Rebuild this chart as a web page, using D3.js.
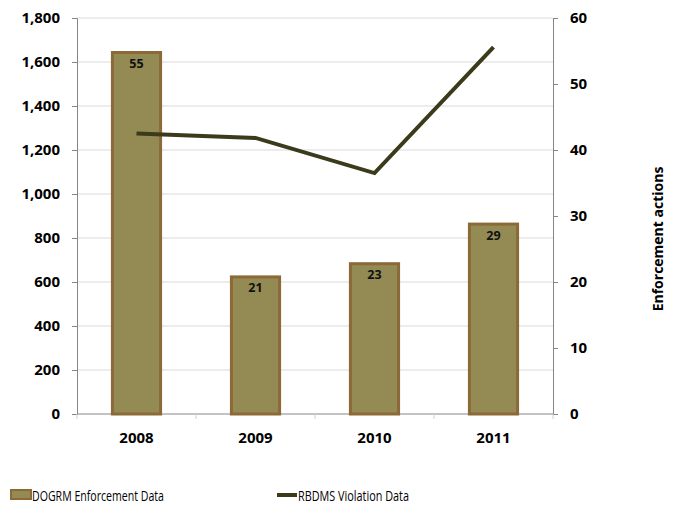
<!DOCTYPE html>
<html>
<head>
<meta charset="utf-8">
<script src="https://cdn.jsdelivr.net/npm/d3@7"></script>
<style>
  body { margin: 0; background: #fff; }
  text { font-family: "Open Sans", "DejaVu Sans", sans-serif; }
</style>
</head>
<body>
<div id="chart"></div>
<script>
var years = ['2008', '2009', '2010', '2011']
var enforcement = [55, 21, 23, 29]          // right axis, bars
var violations = [1275, 1255, 1095, 1668]   // left axis, line
var leftTicks = [0, 200, 400, 600, 800, 1000, 1200, 1400, 1600, 1800]
var rightTicks = [0, 10, 20, 30, 40, 50, 60]

var width = 676
var height = 508
var plot = { left: 77, right: 553, top: 18, bottom: 414 }

var x = d3.scaleBand()
  .domain(years)
  .range([plot.left, plot.right])
  .paddingInner(0.57)
  .paddingOuter(0.285)

var xCenter = d3.scalePoint()
  .domain(years)
  .range([plot.left, plot.right])
  .padding(0.5)

var yLeft = d3.scaleLinear().domain([0, 1800]).range([plot.bottom, plot.top])
var yRight = d3.scaleLinear().domain([0, 60]).range([plot.bottom, plot.top])

var svg = d3.select('#chart')
  .append('svg')
  .attr('width', width)
  .attr('height', height)

// gridlines
svg.append('g')
  .selectAll('line')
  .data(leftTicks.slice(1))
  .enter()
  .append('line')
  .attr('x1', plot.left)
  .attr('x2', plot.right)
  .attr('y1', d => yLeft(d))
  .attr('y2', d => yLeft(d))
  .attr('stroke', '#d9d9d9')
  .attr('stroke-width', 1)

// left axis
var leftAxis = svg.append('g')
  .attr('transform', `translate(${plot.left},0)`)
  .call(d3.axisLeft(yLeft).tickValues(leftTicks).tickFormat(d3.format(',')).tickSize(5).tickPadding(12))
leftAxis.select('.domain').attr('stroke', '#868686')
leftAxis.selectAll('.tick line').attr('stroke', '#868686')
leftAxis.selectAll('text')
  .attr('font-size', '15px')
  .attr('font-weight', 'bold')
  .attr('fill', '#000')

// right axis
var rightAxis = svg.append('g')
  .attr('transform', `translate(${plot.right},0)`)
  .call(d3.axisRight(yRight).tickValues(rightTicks).tickSize(5).tickPadding(12))
rightAxis.select('.domain').attr('stroke', '#868686')
rightAxis.selectAll('.tick line').attr('stroke', '#868686')
rightAxis.selectAll('text')
  .attr('font-size', '15px')
  .attr('font-weight', 'bold')
  .attr('fill', '#000')

// bottom axis: ticks between categories
var bottomAxis = svg.append('g')
  .attr('transform', `translate(0,${plot.bottom})`)
bottomAxis.append('line')
  .attr('x1', plot.left)
  .attr('x2', plot.right)
  .attr('stroke', '#868686')
bottomAxis.selectAll('line.sep')
  .data(d3.range(years.length + 1))
  .enter()
  .append('line')
  .attr('class', 'sep')
  .attr('x1', i => plot.left + i * x.step())
  .attr('x2', i => plot.left + i * x.step())
  .attr('y1', 0)
  .attr('y2', 5)
  .attr('stroke', '#d0d0d0')
bottomAxis.selectAll('text')
  .data(years)
  .enter()
  .append('text')
  .attr('x', d => xCenter(d))
  .attr('y', 29)
  .attr('text-anchor', 'middle')
  .attr('font-size', '15px')
  .attr('font-weight', 'bold')
  .text(d => d)

// bars
svg.append('g')
  .selectAll('rect')
  .data(enforcement)
  .enter()
  .append('rect')
  .attr('x', (d, i) => x(years[i]) + 1.5)
  .attr('width', x.bandwidth() - 3)
  .attr('y', d => yRight(d) + 1.5)
  .attr('height', d => plot.bottom - yRight(d) - 1.5)
  .attr('fill', '#948a54')
  .attr('stroke', '#8b6a38')
  .attr('stroke-width', 3)

// bar labels
svg.append('g')
  .selectAll('text')
  .data(enforcement)
  .enter()
  .append('text')
  .attr('x', (d, i) => xCenter(years[i]))
  .attr('y', d => yRight(d) + 17)
  .attr('text-anchor', 'middle')
  .attr('font-size', '12.5px')
  .attr('font-weight', 'bold')
  .attr('fill', '#111')
  .text(d => d)

// line
var line = d3.line()
  .x((d, i) => xCenter(years[i]))
  .y(d => yLeft(d))

svg.append('path')
  .datum(violations)
  .attr('d', line)
  .attr('fill', 'none')
  .attr('stroke', '#3b3b1b')
  .attr('stroke-width', 4)

// right axis title
svg.append('text')
  .attr('transform', 'translate(663,239) rotate(-90)')
  .attr('text-anchor', 'middle')
  .attr('font-size', '14px')
  .attr('font-weight', 'bold')
  .text('Enforcement actions')

// legend
var legend = svg.append('g').attr('transform', 'translate(0,497)')
legend.append('rect')
  .attr('x', 11).attr('y', -7).attr('width', 20).attr('height', 9)
  .attr('fill', '#948a54').attr('stroke', '#8b6a38').attr('stroke-width', 2)
legend.append('text')
  .attr('x', 32).attr('y', 4)
  .attr('font-size', '14px')
  .attr('fill', '#000')
  .attr('textLength', 132)
  .attr('lengthAdjust', 'spacingAndGlyphs')
  .text('DOGRM Enforcement Data')
legend.append('line')
  .attr('x1', 277).attr('x2', 297).attr('y1', -2).attr('y2', -2)
  .attr('stroke', '#3b3b1b').attr('stroke-width', 4)
legend.append('text')
  .attr('x', 298).attr('y', 4)
  .attr('font-size', '14px')
  .attr('fill', '#000')
  .attr('textLength', 111)
  .attr('lengthAdjust', 'spacingAndGlyphs')
  .text('RBDMS Violation Data')
</script>
</body>
</html>
